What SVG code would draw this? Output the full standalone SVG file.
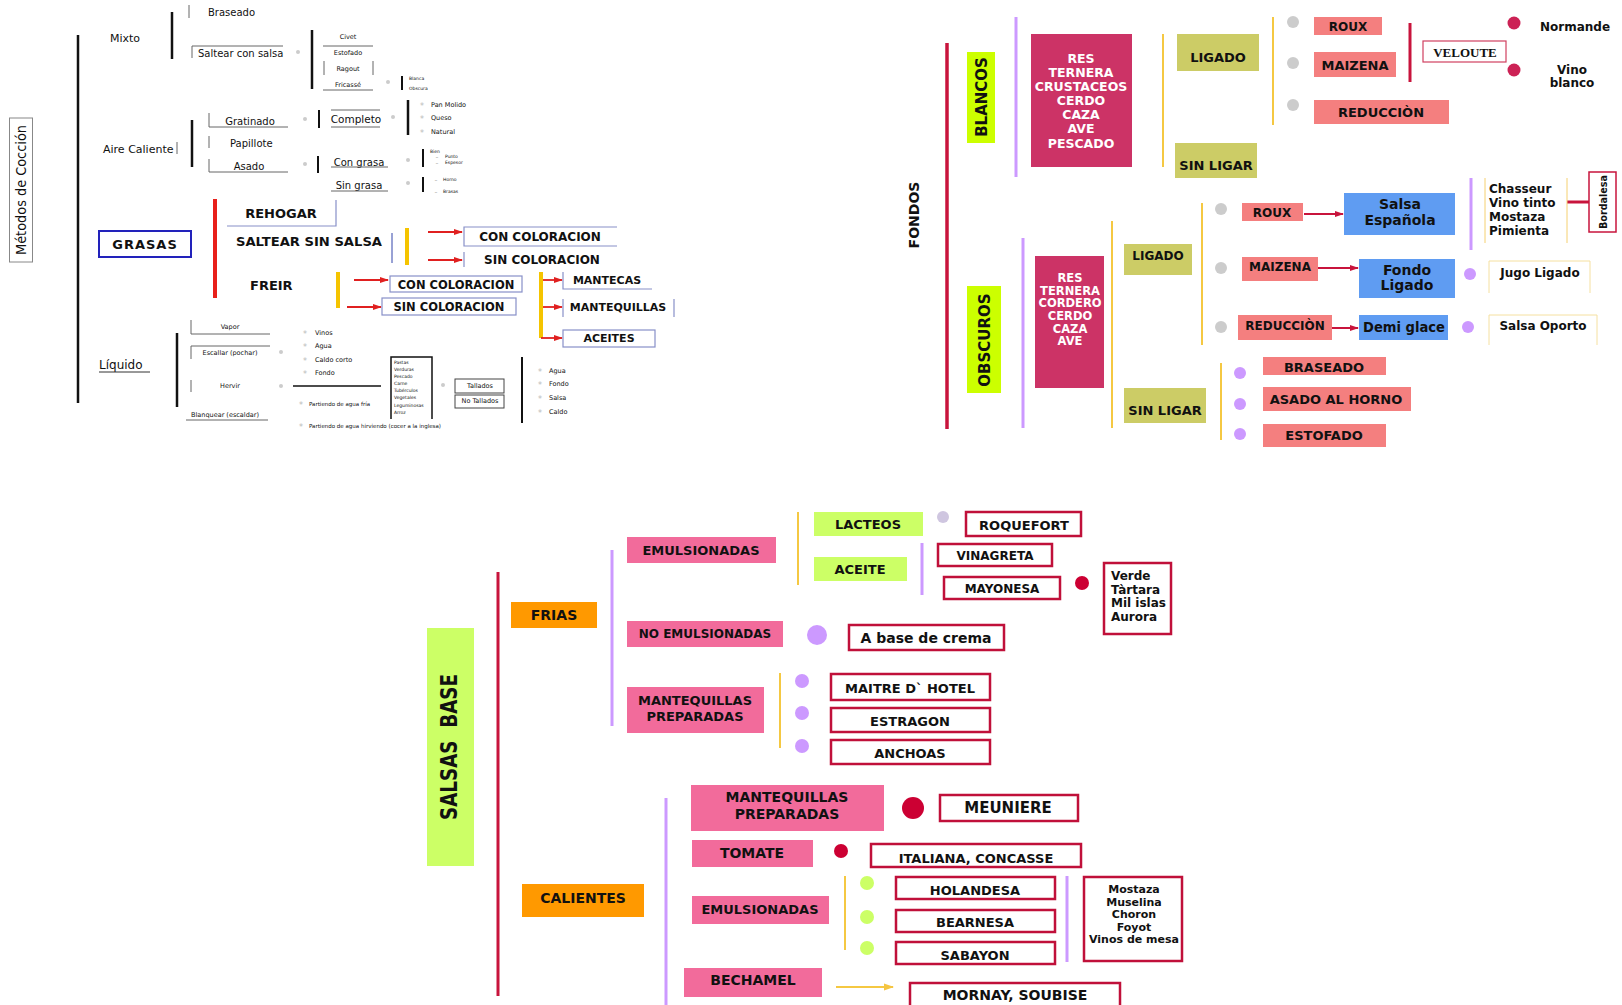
<svg xmlns="http://www.w3.org/2000/svg" width="1622" height="1005" viewBox="0 0 1622 1005">
<defs>
<marker id="arR" markerWidth="9" markerHeight="8" refX="8" refY="4" orient="auto" markerUnits="userSpaceOnUse"><path d="M0,1 L9,4 L0,7 z" fill="#e02020"/></marker>
<marker id="arC" markerWidth="9" markerHeight="8" refX="8" refY="4" orient="auto" markerUnits="userSpaceOnUse"><path d="M0,1 L9,4 L0,7 z" fill="#c8143c"/></marker>
<marker id="arY" markerWidth="10" markerHeight="9" refX="9" refY="4.5" orient="auto" markerUnits="userSpaceOnUse"><path d="M0,1 L10,4.5 L0,8 z" fill="#f5c542"/></marker>
</defs>
<style>
text{font-family:"DejaVu Sans","Liberation Sans",sans-serif;dominant-baseline:central;fill:#111}
.c{text-anchor:middle}
.b{font-weight:bold}
.f10{font-size:10px}
.f7{font-size:6.5px}
.f5{font-size:5px}
.f4{font-size:4.5px}
.k{stroke:#111;stroke-width:2.5;fill:none}
.k2{stroke:#111;stroke-width:2;fill:none}
.g{stroke:#666;stroke-width:1;fill:none}
.st{fill:#bbb;font-size:8px}
.gd{fill:#ccc}
.bl{stroke:#8890c8;stroke-width:1.2;fill:none}
.ry{stroke:#f5c400;stroke-width:4;fill:none}
.ra{stroke:#e02020;stroke-width:1.8;fill:none;marker-end:url(#arR)}
.cr{stroke:#c8143c;fill:none}
.vi{stroke:#cc99ff;stroke-width:3;fill:none}
.ye{stroke:#f5c842;stroke-width:2;fill:none}
.lime{fill:#ccff00}
.lime2{fill:#ccff66}
.res{fill:#cc3366}
.kh{fill:#cccc66}
.sal{fill:#f47f7f}
.blu{fill:#5f9cf2}
.pk{fill:#f26b9b}
.or{fill:#ff9900}
.wb{fill:#fff;stroke:#c0103a;stroke-width:2.5}
.wt{fill:#fff}
.t12{font-size:12px;font-weight:bold}
.t13{font-size:13px;font-weight:bold}
.t14{font-size:14px;font-weight:bold}
</style>

<!-- ========== METODOS DE COCCION ========== -->
<g id="metodos-titulo">
<rect x="9.5" y="118" width="23" height="144" fill="#fff" stroke="#888" stroke-width="1"/>
<text class="c" font-size="14" transform="translate(21,190) rotate(-90)" textLength="130" lengthAdjust="spacingAndGlyphs">Métodos de Cocción</text>
</g>
<g id="tronco"><line x1="78" y1="35" x2="78" y2="403" class="k"/></g>

<g id="mixto">
<text x="110" y="38" font-size="11">Mixto</text>
<line x1="172" y1="12" x2="172" y2="59" class="k"/>
<line x1="189" y1="5" x2="189" y2="18" class="g"/>
<text x="208" y="12" class="f10">Braseado</text>
<polyline points="192,58 192,46 283,46" class="g"/>
<text x="198" y="53" class="f10">Saltear con salsa</text>
<circle cx="298" cy="52" r="2" class="gd"/>
<line x1="312" y1="30" x2="312" y2="89" class="k"/>
<text x="348" y="37" class="c f7">Civet</text>
<line x1="323" y1="46" x2="373" y2="46" class="g"/>
<text x="348" y="53" class="c f7">Estofado</text>
<line x1="324" y1="61" x2="324" y2="75" class="g"/>
<line x1="373" y1="61" x2="373" y2="75" class="g"/>
<text x="348" y="69" class="c f7">Ragout</text>
<text x="348" y="85" class="c f7">Fricassé</text>
<line x1="323" y1="90" x2="373" y2="90" class="g"/>
<circle cx="388" cy="82" r="2" class="gd"/>
<line x1="402" y1="76" x2="402" y2="90" class="k2"/>
<text x="409" y="78" class="f4">Blanca</text>
<text x="409" y="88" class="f4">Obscura</text>
</g>

<g id="aire-caliente">
<text x="103" y="149" font-size="11">Aire Caliente</text>
<line x1="177" y1="142" x2="177" y2="154" class="g"/>
<line x1="192" y1="120" x2="192" y2="167" class="k"/>
<polyline points="209,113 209,127 288,127" class="g"/>
<text x="250" y="121" class="c f10">Gratinado</text>
<line x1="209" y1="136" x2="209" y2="148" class="g"/>
<text x="230" y="143" class="f10">Papillote</text>
<polyline points="209,159 209,172 288,172" class="g"/>
<text x="249" y="166" class="c f10">Asado</text>
<circle cx="305" cy="119" r="2" class="gd"/>
<circle cx="305" cy="164" r="2" class="gd"/>
<line x1="319" y1="110" x2="319" y2="128" class="k2"/>
<line x1="331" y1="110" x2="380" y2="110" class="g"/>
<line x1="331" y1="127" x2="380" y2="127" class="g"/>
<text x="356" y="119" class="c" font-size="10.5">Completo</text>
<circle cx="393" cy="117" r="2" class="gd"/>
<line x1="408" y1="100" x2="408" y2="135" class="k"/>
<text x="422" y="106" class="st c">*</text>
<text x="422" y="119" class="st c">*</text>
<text x="422" y="133" class="st c">*</text>
<text x="431" y="105" class="f7">Pan Molido</text>
<text x="431" y="118" class="f7">Queso</text>
<text x="431" y="132" class="f7">Natural</text>
<line x1="318" y1="156" x2="318" y2="173" class="k2"/>
<text x="359" y="162" class="c f10">Con grasa</text>
<line x1="331" y1="167" x2="388" y2="167" class="g"/>
<text x="359" y="185" class="c f10">Sin grasa</text>
<line x1="331" y1="191" x2="388" y2="191" class="g"/>
<circle cx="408" cy="160" r="2" class="gd"/>
<circle cx="408" cy="183" r="2" class="gd"/>
<line x1="423" y1="149" x2="423" y2="167" class="k2"/>
<text x="430" y="151" class="f4">Bien</text>
<text x="437" y="157" class="st c" font-size="6">-</text>
<text x="445" y="156" class="f4">Punto</text>
<text x="437" y="163" class="st c" font-size="6">-</text>
<text x="445" y="162" class="f4">Espesor</text>
<line x1="423" y1="177" x2="423" y2="192" class="k2"/>
<text x="436" y="180" class="st c" font-size="6">-</text>
<text x="443" y="179" class="f4">Horno</text>
<text x="436" y="192" class="st c" font-size="6">-</text>
<text x="443" y="191" class="f4">Brasas</text>
</g>

<g id="grasas-connectors">
<line x1="215" y1="199" x2="215" y2="298" stroke="#e8201a" stroke-width="4"/>
<line x1="407" y1="228" x2="407" y2="265" class="ry"/>
<line x1="338" y1="272" x2="338" y2="308" class="ry"/>
<line x1="541" y1="272" x2="541" y2="338" class="ry"/>
<line x1="428" y1="232" x2="462" y2="232" class="ra"/>
<line x1="428" y1="260" x2="462" y2="260" class="ra"/>
<line x1="354" y1="280" x2="388" y2="280" class="ra"/>
<line x1="347" y1="307" x2="381" y2="307" class="ra"/>
<line x1="543" y1="280" x2="562" y2="280" class="ra"/>
<line x1="543" y1="307" x2="562" y2="307" class="ra"/>
<line x1="541" y1="338" x2="562" y2="338" class="ra"/>
</g>
<g id="grasas">
<rect x="99" y="231" width="92" height="26" fill="#fff" stroke="#2222bb" stroke-width="2"/>
<text x="145" y="244" class="c t13" letter-spacing="1">GRASAS</text>
</g>
<g id="rehogar">
<polyline points="227,226 336,226 336,200" class="bl"/>
<text x="281" y="213" class="c t13">REHOGAR</text>
</g>
<g id="saltear-sin-salsa">
<text x="236" y="242" class="t12" textLength="146" lengthAdjust="spacingAndGlyphs">SALTEAR SIN SALSA</text>
<line x1="392" y1="233" x2="392" y2="263" stroke="#3344aa" stroke-width="1"/>
</g>
<g id="con-coloracion-1">
<path d="M617,227 H464 V246 H617" class="bl"/>
<text x="540" y="237" class="c t12">CON COLORACION</text>
</g>
<g id="sin-coloracion-1">
<line x1="464" y1="252" x2="464" y2="267" class="bl"/>
<text x="542" y="260" class="c t12">SIN COLORACION</text>
</g>
<g id="freir"><text x="250" y="285" class="t13">FREIR</text></g>
<g id="con-coloracion-2">
<rect x="390" y="276" width="132" height="16" class="bl"/>
<text x="456" y="285" class="c" font-size="11.5" font-weight="bold">CON COLORACION</text>
</g>
<g id="sin-coloracion-2">
<rect x="382" y="298" width="134" height="17" class="bl"/>
<text x="449" y="307" class="c" font-size="11.5" font-weight="bold">SIN COLORACION</text>
</g>
<g id="mantecas">
<path d="M563,272 V289 H652" class="bl"/>
<text x="607" y="280" class="c" font-size="11" font-weight="bold">MANTECAS</text>
</g>
<g id="mantequillas">
<line x1="563" y1="299" x2="563" y2="317" class="bl"/>
<line x1="674" y1="299" x2="674" y2="317" class="bl"/>
<text x="618" y="307" class="c" font-size="11" font-weight="bold">MANTEQUILLAS</text>
</g>
<g id="aceites">
<rect x="563" y="330" width="92" height="17" class="bl"/>
<text x="609" y="338" class="c" font-size="11" font-weight="bold">ACEITES</text>
</g>

<g id="liquido">
<text x="99" y="365" font-size="12">Líquido</text>
<line x1="99" y1="372" x2="150" y2="372" stroke="#333" stroke-width="1"/>
<line x1="177" y1="333" x2="177" y2="407" class="k"/>
<polyline points="191,320 191,334 270,334" class="g"/>
<text x="230" y="327" class="c f7">Vapor</text>
<polyline points="270,346 191,346 191,359" class="g"/>
<text x="230" y="353" class="c f7">Escallar (pochar)</text>
<circle cx="281" cy="352" r="2" class="gd"/>
<line x1="191" y1="380" x2="191" y2="392" class="g"/>
<text x="230" y="386" class="c f7">Hervir</text>
<circle cx="281" cy="386" r="2" class="gd"/>
<line x1="293" y1="386" x2="381" y2="386" stroke="#111" stroke-width="1.5"/>
<text x="305" y="334" class="st c">*</text><text x="315" y="333" class="f7">Vinos</text>
<text x="305" y="347" class="st c">*</text><text x="315" y="346" class="f7">Agua</text>
<text x="305" y="361" class="st c">*</text><text x="315" y="360" class="f7">Caldo  corto</text>
<text x="305" y="374" class="st c">*</text><text x="315" y="373" class="f7">Fondo</text>
<text x="301" y="405" class="st c">*</text><text x="309" y="404" font-size="5.5">Partiendo de agua fría</text>
<text x="301" y="427" class="st c">*</text><text x="309" y="426" font-size="5.5">Partiendo de agua hirviendo (cocer a la inglesa)</text>
<text x="225" y="415" class="c f7">Blanquear (escaldar)</text>
<line x1="186" y1="420" x2="268" y2="420" class="g"/>
<path d="M391,419 V357 H432 V419" stroke="#111" stroke-width="1.5" fill="none"/>
<text x="394" y="362" class="f4">Pastas</text>
<text x="394" y="369" class="f4">Verduras</text>
<text x="394" y="376" class="f4">Pescado</text>
<text x="394" y="383" class="f4">Carne</text>
<text x="394" y="390" class="f4">Tubérculos</text>
<text x="394" y="397" class="f4">Vegetales</text>
<text x="394" y="405" class="f4">Leguminosas</text>
<text x="394" y="412" class="f4">Arroz</text>
<circle cx="443" cy="385" r="2" class="gd"/>
<rect x="455" y="379" width="49" height="14" fill="none" stroke="#444" stroke-width="1"/>
<text x="480" y="386" class="c f7">Tallados</text>
<rect x="455" y="395" width="49" height="13" fill="none" stroke="#444" stroke-width="1"/>
<text x="480" y="401" class="c f7">No  Tallados</text>
<line x1="522" y1="357" x2="522" y2="423" class="k2"/>
<text x="540" y="372" class="st c">*</text><text x="549" y="371" class="f7">Agua</text>
<text x="540" y="385" class="st c">*</text><text x="549" y="384" class="f7">Fondo</text>
<text x="540" y="399" class="st c">*</text><text x="549" y="398" class="f7">Salsa</text>
<text x="540" y="413" class="st c">*</text><text x="549" y="412" class="f7">Caldo</text>
</g>

<!-- ========== FONDOS ========== -->
<g id="fondos-connectors">
<line x1="947" y1="43" x2="947" y2="429" class="cr" stroke-width="3.5"/>
<line x1="1016" y1="17" x2="1016" y2="177" class="vi"/>
<line x1="1163" y1="34" x2="1163" y2="167" class="ye"/>
<line x1="1273" y1="17" x2="1273" y2="125" class="ye"/>
<line x1="1410" y1="23" x2="1410" y2="82" class="cr" stroke-width="3"/>
<line x1="1023" y1="238" x2="1023" y2="428" class="vi"/>
<line x1="1112" y1="221" x2="1112" y2="428" class="ye"/>
<line x1="1202" y1="203" x2="1202" y2="345" class="ye"/>
<line x1="1221" y1="363" x2="1221" y2="440" class="ye"/>
<line x1="1304" y1="214" x2="1343" y2="214" class="cr" stroke-width="2" marker-end="url(#arC)"/>
<line x1="1318" y1="268" x2="1358" y2="268" class="cr" stroke-width="2" marker-end="url(#arC)"/>
<line x1="1332" y1="328" x2="1358" y2="328" class="cr" stroke-width="2" marker-end="url(#arC)"/>
<line x1="1471" y1="178" x2="1471" y2="250" class="vi"/>
<line x1="1567" y1="202" x2="1589" y2="202" class="cr" stroke-width="3"/>
</g>
<g id="fondos-title"><text class="c t14" transform="translate(914,215) rotate(-90)">FONDOS</text></g>
<g id="blancos"><rect x="967" y="52" width="28" height="91" class="lime"/><text class="c" font-size="15" font-weight="bold" transform="translate(982,97) rotate(-90)">BLANCOS</text></g>
<g id="res-blancos">
<rect x="1031" y="34" width="101" height="133" class="res"/>
<text x="1081" y="58" class="c" font-size="12.5" font-weight="bold" style="fill:#fff">RES</text>
<text x="1081" y="72" class="c" font-size="12.5" font-weight="bold" style="fill:#fff">TERNERA</text>
<text x="1081" y="86" class="c" font-size="12.5" font-weight="bold" style="fill:#fff">CRUSTACEOS</text>
<text x="1081" y="100" class="c" font-size="12.5" font-weight="bold" style="fill:#fff">CERDO</text>
<text x="1081" y="114" class="c" font-size="12.5" font-weight="bold" style="fill:#fff">CAZA</text>
<text x="1081" y="128" class="c" font-size="12.5" font-weight="bold" style="fill:#fff">AVE</text>
<text x="1081" y="143" class="c" font-size="12.5" font-weight="bold" style="fill:#fff">PESCADO</text>
</g>
<g id="ligado-b"><rect x="1177" y="34" width="82" height="37" class="kh"/><text x="1218" y="57" class="c t13">LIGADO</text></g>
<g id="sinligar-b"><rect x="1175" y="143" width="82" height="35" class="kh"/><text x="1216" y="165" class="c t13">SIN LIGAR</text></g>
<g id="dots-b"><circle cx="1293" cy="22" r="6" class="gd"/><circle cx="1293" cy="63" r="6" class="gd"/><circle cx="1293" cy="105" r="6" class="gd"/></g>
<g id="roux-b"><rect x="1314" y="17" width="68" height="18" class="sal"/><text x="1348" y="27" class="c t12">ROUX</text></g>
<g id="maizena-b"><rect x="1314" y="52" width="82" height="25" class="sal"/><text x="1355" y="65" class="c t13">MAIZENA</text></g>
<g id="reduccion-b"><rect x="1314" y="100" width="135" height="24" class="sal"/><text x="1381" y="112" class="c t13">REDUCCIÒN</text></g>
<g id="veloute"><rect x="1423" y="41" width="83" height="21" fill="#fff" stroke="#d04060" stroke-width="1.2"/><text x="1465" y="52" class="c" style="font-family:'Liberation Serif',serif" font-size="13" font-weight="bold">VELOUTE</text></g>
<g id="normande"><circle cx="1514" cy="23" r="6.5" fill="#cc2255"/><text x="1575" y="27" class="c t12">Normande</text></g>
<g id="vino-blanco"><circle cx="1514" cy="70" r="6.5" fill="#cc2255"/><text x="1572" y="70" class="c t12">Vino</text><text x="1572" y="83" class="c t12">blanco</text></g>

<g id="obscuros"><rect x="967" y="286" width="34" height="107" class="lime"/><text class="c" font-size="15" font-weight="bold" transform="translate(985,340) rotate(-90)">OBSCUROS</text></g>
<g id="res-obscuros">
<rect x="1035" y="256" width="69" height="132" class="res"/>
<text x="1070" y="278" class="c" font-size="11.5" font-weight="bold" style="fill:#fff">RES</text>
<text x="1070" y="291" class="c" font-size="11.5" font-weight="bold" style="fill:#fff">TERNERA</text>
<text x="1070" y="303" class="c" font-size="11.5" font-weight="bold" style="fill:#fff">CORDERO</text>
<text x="1070" y="316" class="c" font-size="11.5" font-weight="bold" style="fill:#fff">CERDO</text>
<text x="1070" y="329" class="c" font-size="11.5" font-weight="bold" style="fill:#fff">CAZA</text>
<text x="1070" y="341" class="c" font-size="11.5" font-weight="bold" style="fill:#fff">AVE</text>
</g>
<g id="ligado-o"><rect x="1124" y="244" width="68" height="31" class="kh"/><text x="1158" y="256" class="c t12">LIGADO</text></g>
<g id="sinligar-o"><rect x="1124" y="388" width="82" height="35" class="kh"/><text x="1165" y="410" class="c t13">SIN LIGAR</text></g>
<g id="dots-o"><circle cx="1221" cy="209" r="6" class="gd"/><circle cx="1221" cy="268" r="6" class="gd"/><circle cx="1221" cy="327" r="6" class="gd"/></g>
<g id="roux-o"><rect x="1242" y="203" width="61" height="18" class="sal"/><text x="1272" y="213" class="c t12">ROUX</text></g>
<g id="salsa-espanola"><rect x="1344" y="193" width="111" height="42" class="blu"/><text x="1400" y="204" class="c t14">Salsa</text><text x="1400" y="220" class="c t14">Española</text></g>
<g id="maizena-o"><rect x="1242" y="257" width="76" height="24" class="sal"/><text x="1280" y="267" class="c t12">MAIZENA</text></g>
<g id="fondo-ligado"><rect x="1359" y="259" width="96" height="39" class="blu"/><text x="1407" y="270" class="c t14">Fondo</text><text x="1407" y="285" class="c t14">Ligado</text></g>
<g id="reduccion-o"><rect x="1238" y="315" width="94" height="25" class="sal"/><text x="1285" y="326" class="c t12">REDUCCIÒN</text></g>
<g id="demi-glace"><rect x="1359" y="315" width="89" height="25" class="blu"/><text x="1404" y="327" class="c t14" textLength="82" lengthAdjust="spacingAndGlyphs">Demi glace</text></g>
<g id="chasseur">
<line x1="1485" y1="178" x2="1485" y2="243" stroke="#f5d070" stroke-width="1"/>
<line x1="1567" y1="178" x2="1567" y2="243" stroke="#f5d070" stroke-width="1"/>
<text x="1489" y="189" class="t12">Chasseur</text>
<text x="1489" y="203" class="t12">Vino tinto</text>
<text x="1489" y="217" class="t12">Mostaza</text>
<text x="1489" y="231" class="t12">Pimienta</text>
</g>
<g id="bordalesa"><rect x="1589" y="172" width="27" height="60" fill="#fff" stroke="#c8143c" stroke-width="1.5"/><text class="c" font-size="10.5" font-weight="bold" transform="translate(1603,202) rotate(-90)" textLength="54" lengthAdjust="spacingAndGlyphs">Bordalesa</text></g>
<g id="jugo-ligado"><circle cx="1470" cy="274" r="6" fill="#cc99ff"/><path d="M1489,293 V261 H1590 V293" stroke="#f5e0a0" stroke-width="1" fill="none"/><text x="1540" y="273" class="c t12">Jugo Ligado</text></g>
<g id="salsa-oporto"><circle cx="1468" cy="327" r="6" fill="#cc99ff"/><path d="M1489,345 V315 H1597 V345" stroke="#f5e0a0" stroke-width="1" fill="none"/><text x="1543" y="326" class="c t12">Salsa Oporto</text></g>
<g id="braseado"><circle cx="1240" cy="373" r="6" fill="#cc99ff"/><rect x="1263" y="357" width="123" height="18" class="sal"/><text x="1324" y="367" class="c t13">BRASEADO</text></g>
<g id="asado-horno"><circle cx="1240" cy="404" r="6" fill="#cc99ff"/><rect x="1263" y="387" width="148" height="24" class="sal"/><text x="1336" y="399" class="c t13">ASADO AL HORNO</text></g>
<g id="estofado"><circle cx="1240" cy="434" r="6" fill="#cc99ff"/><rect x="1263" y="424" width="123" height="23" class="sal"/><text x="1324" y="435" class="c t13">ESTOFADO</text></g>

<!-- ========== SALSAS BASE ========== -->
<g id="salsas-connectors">
<line x1="498" y1="572" x2="498" y2="996" class="cr" stroke-width="3"/>
<line x1="612" y1="550" x2="612" y2="726" class="vi"/>
<line x1="798" y1="512" x2="798" y2="585" class="ye"/>
<line x1="922" y1="543" x2="922" y2="595" class="vi"/>
<line x1="780" y1="673" x2="780" y2="748" class="ye"/>
<line x1="666" y1="798" x2="666" y2="1005" class="vi"/>
<line x1="845" y1="876" x2="845" y2="950" class="ye"/>
<line x1="1067" y1="876" x2="1067" y2="962" class="vi"/>
<line x1="836" y1="987" x2="893" y2="987" class="ye" marker-end="url(#arY)"/>
</g>
<g id="salsas-base"><rect x="427" y="628" width="47" height="238" class="lime2"/><text class="c" font-size="23" font-weight="bold" transform="translate(449,747) rotate(-90)" textLength="146" lengthAdjust="spacingAndGlyphs">SALSAS&#160;&#160;BASE</text></g>
<g id="frias"><rect x="511" y="602" width="86" height="26" class="or"/><text x="554" y="615" class="c t14">FRIAS</text></g>
<g id="emulsionadas-f"><rect x="627" y="537" width="149" height="26" class="pk"/><text x="701" y="550" class="c t13">EMULSIONADAS</text></g>
<g id="lacteos"><rect x="814" y="512" width="109" height="24" class="lime2"/><text x="868" y="524" class="c t13">LACTEOS</text></g>
<g id="roquefort"><circle cx="943" cy="517" r="6" fill="#cfc6e0"/><rect x="966" y="512" width="115" height="24" class="wb"/><text x="1024" y="525" class="c t13">ROQUEFORT</text></g>
<g id="aceite"><rect x="814" y="557" width="93" height="24" class="lime2"/><text x="860" y="569" class="c t13">ACEITE</text></g>
<g id="vinagreta"><rect x="938" y="544" width="114" height="22" class="wb"/><text x="995" y="556" class="c t12">VINAGRETA</text></g>
<g id="mayonesa"><rect x="944" y="577" width="116" height="22" class="wb"/><text x="1002" y="589" class="c t12">MAYONESA</text></g>
<g id="verde"><circle cx="1082" cy="583" r="7" fill="#cc0033"/><rect x="1104" y="563" width="67" height="71" class="wb"/>
<text x="1111" y="576" class="t12">Verde</text><text x="1111" y="590" class="t12">Tàrtara</text><text x="1111" y="603" class="t12">Mil islas</text><text x="1111" y="617" class="t12">Aurora</text></g>
<g id="no-emulsionadas"><rect x="627" y="621" width="156" height="26" class="pk"/><text x="705" y="634" class="c t12">NO EMULSIONADAS</text></g>
<g id="base-crema"><circle cx="817" cy="635" r="10" fill="#cc99ff"/><rect x="849" y="625" width="155" height="25" class="wb"/><text x="926" y="638" class="c t14">A base de crema</text></g>
<g id="mantequillas-f"><rect x="627" y="687" width="137" height="46" class="pk"/><text x="695" y="700" class="c t13">MANTEQUILLAS</text><text x="695" y="716" class="c t13">PREPARADAS</text></g>
<g id="maitre"><circle cx="802" cy="681" r="7" fill="#cc99ff"/><rect x="831" y="674" width="159" height="26" class="wb"/><text x="910" y="688" class="c t13">MAITRE D` HOTEL</text></g>
<g id="estragon"><circle cx="802" cy="713" r="7" fill="#cc99ff"/><rect x="831" y="708" width="159" height="24" class="wb"/><text x="910" y="721" class="c t13">ESTRAGON</text></g>
<g id="anchoas"><circle cx="802" cy="746" r="7" fill="#cc99ff"/><rect x="831" y="740" width="159" height="24" class="wb"/><text x="910" y="753" class="c t13">ANCHOAS</text></g>
<g id="calientes"><rect x="522" y="884" width="122" height="33" class="or"/><text x="583" y="898" class="c t14">CALIENTES</text></g>
<g id="mantequillas-c"><rect x="691" y="785" width="193" height="46" class="pk"/><text x="787" y="797" class="c t14">MANTEQUILLAS</text><text x="787" y="814" class="c t14">PREPARADAS</text></g>
<g id="meuniere"><circle cx="913" cy="808" r="11" fill="#cc0033"/><rect x="940" y="795" width="138" height="26" class="wb"/><text x="1008" y="808" class="c" font-size="15" font-weight="bold">MEUNIERE</text></g>
<g id="tomate"><rect x="692" y="840" width="121" height="27" class="pk"/><text x="752" y="853" class="c t14">TOMATE</text></g>
<g id="italiana"><circle cx="841" cy="851" r="7" fill="#cc0033"/><rect x="871" y="844" width="210" height="23" class="wb"/><text x="976" y="858" class="c t13">ITALIANA, CONCASSE</text></g>
<g id="emulsionadas-c"><rect x="692" y="896" width="137" height="28" class="pk"/><text x="760" y="909" class="c t13">EMULSIONADAS</text></g>
<g id="holandesa"><circle cx="867" cy="883" r="7" fill="#ccff66"/><rect x="896" y="877" width="159" height="22" class="wb"/><text x="975" y="890" class="c t13">HOLANDESA</text></g>
<g id="bearnesa"><circle cx="867" cy="917" r="7" fill="#ccff66"/><rect x="896" y="910" width="159" height="22" class="wb"/><text x="975" y="922" class="c t13">BEARNESA</text></g>
<g id="sabayon"><circle cx="867" cy="948" r="7" fill="#ccff66"/><rect x="896" y="942" width="159" height="22" class="wb"/><text x="975" y="955" class="c t13">SABAYON</text></g>
<g id="mostaza"><rect x="1084" y="877" width="98" height="84" class="wb"/>
<text x="1134" y="889" class="c" font-size="11" font-weight="bold">Mostaza</text>
<text x="1134" y="902" class="c" font-size="11" font-weight="bold">Muselina</text>
<text x="1134" y="914" class="c" font-size="11" font-weight="bold">Choron</text>
<text x="1134" y="927" class="c" font-size="11" font-weight="bold">Foyot</text>
<text x="1134" y="939" class="c" font-size="11" font-weight="bold">Vinos de mesa</text></g>
<g id="bechamel"><rect x="684" y="968" width="138" height="29" class="pk"/><text x="753" y="980" class="c t14">BECHAMEL</text></g>
<g id="mornay"><rect x="910" y="983" width="210" height="24" class="wb"/><text x="1015" y="995" class="c t14">MORNAY, SOUBISE</text></g>
</svg>
